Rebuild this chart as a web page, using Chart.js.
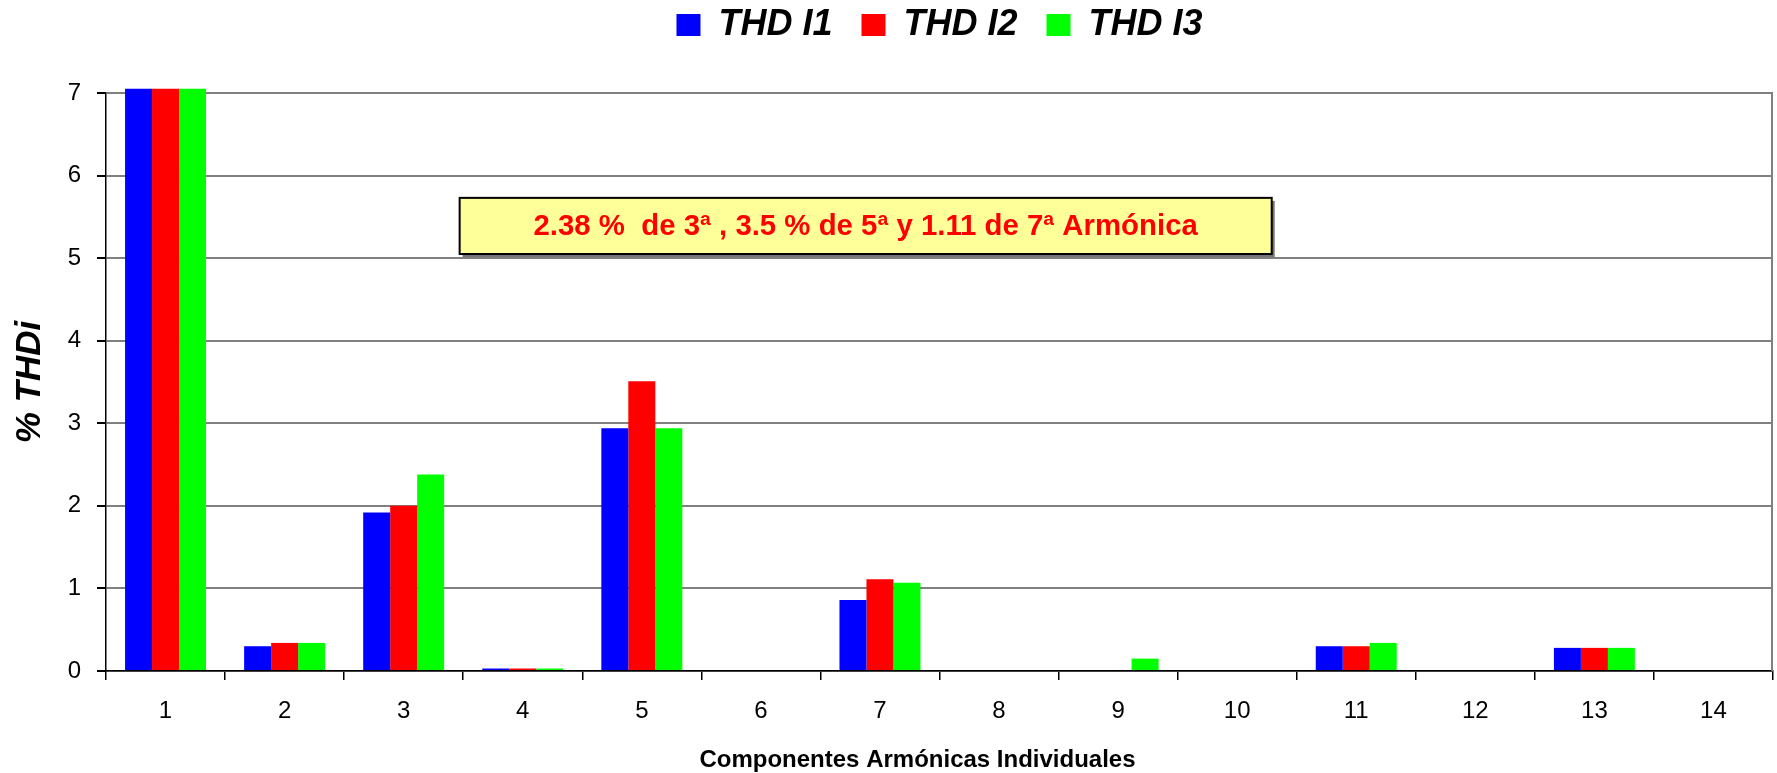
<!DOCTYPE html>
<html><head><meta charset="utf-8">
<script src="https://cdn.jsdelivr.net/npm/chart.js@4"></script>
<style>html,body{margin:0;padding:0;background:#fff}#wrap{width:1777px;height:773px}</style>
</head><body><div id="wrap"><canvas id="c" width="1777" height="773"></canvas></div>
<script>
const categories = ['1','2','3','4','5','6','7','8','9','10','11','12','13','14'];
const thdI1 = [7.05, 0.30, 1.92, 0.03, 2.94, 0, 0.86, 0, 0,    0, 0.30, 0, 0.28, 0];
const thdI2 = [7.05, 0.34, 2.00, 0.03, 3.51, 0, 1.11, 0, 0,    0, 0.30, 0, 0.28, 0];
const thdI3 = [7.05, 0.34, 2.38, 0.03, 2.94, 0, 1.07, 0, 0.15, 0, 0.34, 0, 0.28, 0];
const seriesNames = ['THD I1', 'THD I2', 'THD I3'];
const yTicks = [0, 1, 2, 3, 4, 5, 6, 7];
const yTitle = '% THDi';
const xTitle = 'Componentes Armónicas Individuales';
const noteText = '2.38 %  de 3ª , 3.5 % de 5ª y 1.11 de 7ª Armónica';

const FONT = "'Liberation Sans', Arial, sans-serif";

const legendSpacer = {
  id: 'legendSpacer',
  beforeLayout(chart) {
    const lg = chart.legend;
    if (lg && !lg._patched) {
      const f = lg.fit;
      lg.fit = function () { f.call(this); this.height = 115; };
      lg._patched = true;
    }
  }
};

const noteBox = { x0: 2.47, x1: 9.29, yTop: 5.73, yBot: 5.05, textFrac: 0.818 };
const xTitleShift = -22;
const decor = {
  id: 'decor',
  afterDatasetsDraw(chart) {
    const ctx = chart.ctx, xs = chart.scales.x, ys = chart.scales.y, ca = chart.chartArea;
    // right plot border
    ctx.save();
    ctx.strokeStyle = '#808080';
    ctx.lineWidth = 2;
    ctx.beginPath();
    ctx.moveTo(ca.right - 1, ca.top);
    ctx.lineTo(ca.right - 1, ca.bottom);
    ctx.stroke();
    ctx.restore();
    // annotation box
    const l = xs.getPixelForValue(noteBox.x0), r = xs.getPixelForValue(noteBox.x1);
    const t = ys.getPixelForValue(noteBox.yTop), b = ys.getPixelForValue(noteBox.yBot);
    ctx.save();
    ctx.fillStyle = '#777';
    ctx.fillRect(l + 3, t + 3, r - l, b - t);
    ctx.fillStyle = '#FFFF99';
    ctx.fillRect(l, t, r - l, b - t);
    ctx.strokeStyle = '#000';
    ctx.lineWidth = 2;
    ctx.strokeRect(l, t, r - l, b - t);
    ctx.font = 'bold 29px ' + FONT;
    const w = ctx.measureText(noteText).width;
    const target = (r - l) * noteBox.textFrac;
    const sx = target / w;
    ctx.translate((l + r) / 2, (t + b) / 2 + 1);
    ctx.scale(sx, 1);
    ctx.fillStyle = '#FF0000';
    ctx.textAlign = 'center';
    ctx.textBaseline = 'middle';
    ctx.fillText(noteText, 0, 0);
    ctx.restore();
  },
  afterDraw(chart) {
    // x axis title (slightly left of the plot centre, as in the original)
    const ctx = chart.ctx, ca = chart.chartArea;
    ctx.save();
    ctx.font = 'bold 24px ' + FONT;
    ctx.fillStyle = '#000';
    ctx.textAlign = 'center';
    ctx.textBaseline = 'middle';
    ctx.fillText(xTitle, (ca.left + ca.right) / 2 + xTitleShift, chart.height - 13);
    ctx.restore();
  }
};

const colors = ['#0000FF', '#FF0000', '#00FF00'];
const seriesData = [thdI1, thdI2, thdI3];

new Chart(document.getElementById('c'), {
  type: 'bar',
  data: {
    labels: categories,
    datasets: seriesData.map((d, i) => ({
      label: seriesNames[i],
      data: d,
      backgroundColor: colors[i],
      borderWidth: 0,
      categoryPercentage: 0.68,
      barPercentage: 1.0,
      clip: false
    }))
  },
  options: {
    responsive: false,
    animation: false,
    devicePixelRatio: 1,
    layout: { padding: { top: -22, right: 4, bottom: 0, left: 0 } },
    plugins: {
      legend: {
        display: true,
        position: 'top',
        fullSize: false,
        labels: {
          boxWidth: 24,
          boxHeight: 22,
          padding: 29,
          color: '#000',
          font: { family: FONT, size: 36, weight: 'bold', style: 'italic' }
        }
      },
      tooltip: { enabled: false },
      title: { display: false }
    },
    scales: {
      x: {
        offset: true,
        grid: {
          display: true,
          offset: true,
          drawOnChartArea: false,
          drawTicks: true,
          tickLength: 9,
          color: '#000',
          lineWidth: 1.5
        },
        border: { display: true, color: '#000', width: 1.5 },
        ticks: {
          color: '#000',
          padding: 17,
          font: { family: FONT, size: 24 },
          maxRotation: 0
        },
        title: { display: false },
        afterFit(scale) { scale.height = 102; }
      },
      y: {
        min: 0,
        max: 7,
        afterBuildTicks(scale) { scale.ticks = yTicks.map(v => ({ value: v })); },
        grid: {
          color: '#808080',
          lineWidth: 2,
          tickColor: '#000',
          tickLength: 9,
          drawTicks: true
        },
        border: { display: true, color: '#000', width: 1.5 },
        ticks: {
          color: '#000',
          padding: 16,
          font: { family: FONT, size: 24 }
        },
        title: {
          display: true,
          text: yTitle,
          color: '#000',
          font: { family: FONT, size: 35, weight: 'bold', style: 'italic' },
          padding: { top: 9, bottom: 0 }
        },
        afterFit(scale) { scale.width = 106; }
      }
    }
  },
  plugins: [legendSpacer, decor]
});
</script>
</body></html>
